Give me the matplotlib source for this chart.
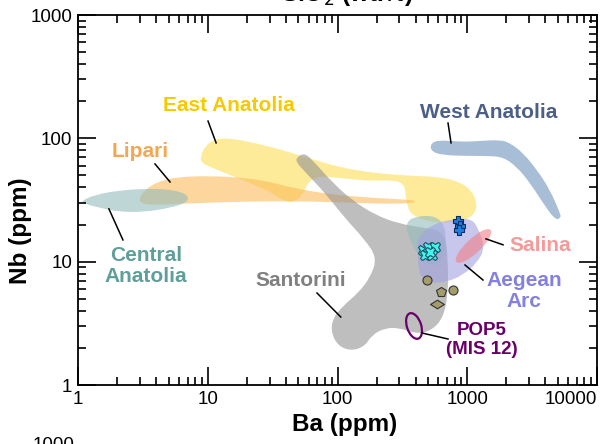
import numpy as np
import matplotlib
matplotlib.use("Agg")
import matplotlib.pyplot as plt
import matplotlib.transforms as mtransforms
from matplotlib.patches import Ellipse, PathPatch
from matplotlib.path import Path

plt.rcParams['font.family'] = ['Liberation Sans', 'DejaVu Sans']

# field outlines (Ba ppm, Nb ppm)
east_ba = [8.72, 9.52, 11.4, 14.8, 21.2, 33.0, 47.0, 67.1, 95.7, 149, 232, 382, 617, 879, 1088,
           1189, 1148, 911, 617, 456, 362, 337, 331, 277, 178, 104, 70.8, 59.3, 53.3, 44.6,
           38.0, 31.3, 23.1, 14.8, 10.4, 9.03]
east_nb = [69.3, 86.8, 98.9, 100, 93.5, 83.6, 74.7, 66.8, 59.7, 54.4, 51.4, 49.6, 48.6, 44.3, 37.4,
           29.9, 24.4, 21.0, 20.6, 21.8, 24.4, 31.6, 41.9, 46.0, 45.1, 47.7, 49.6, 44.3, 34.1, 29.9,
           31.6, 36.1, 41.9, 50.5, 58.6, 63.1]

lipari_ba = [2.95, 3.28, 4.06, 5.8, 10.4, 20.1, 30.2, 45.4, 83, 149, 254, 396,
             396, 254, 149, 45.4, 14.1, 5.8, 3.59, 3.06]
lipari_nb = [32.3, 38.2, 44.3, 48.6, 49.6, 47.7, 44.3, 39.6, 35.4, 33.5, 32.3, 31.6,
             29.9, 29.4, 29.9, 31.1, 30.5, 29.4, 28.8, 29.9]

central_ba = [1.055, 1.35, 1.93, 3.0, 4.68, 6.3, 7.17, 6.8, 5.12, 3.28, 2.11, 1.48, 1.13]
central_nb = [31.1, 34.7, 37.4, 38.9, 38.9, 36.7, 33.5, 29.9, 27.3, 25.3, 25.3, 27.3, 29.4]

central2_ba = [331, 417, 564, 674, 686, 650, 535, 432, 362]
central2_nb = [21.0, 23.5, 23.5, 19.8, 13.7, 10, 9.06, 10.7, 14.5]

west_ba = [516, 585, 927, 1254, 1788, 2135, 2690, 3449, 4345, 5188, 5280, 4747, 3836, 3046,
           2417, 1887, 1420, 927, 650, 535]
west_nb = [88.4, 97.1, 93.5, 95.3, 97.1, 91.8, 76.2, 55.4, 38.2, 24.8, 22.6, 21.8, 29.9, 43.5,
           58.6, 70.6, 72.0, 72.0, 73.3, 77.6]

santorini_ba = [48.7, 56.2, 67.1, 92.3, 129, 195, 303, 472, 674, 711, 711, 650, 535, 417, 303,
                232, 184, 163, 129, 101, 89.1, 92.3, 110, 144, 178, 202, 163, 114, 80.1, 56.2, 47.9]
santorini_nb = [70.7, 76.2, 63.1, 43.5, 31.6, 23.9, 20.2, 18.8, 17.4, 10.3, 5.37, 3.49, 2.79, 2.59,
                2.90, 2.90, 2.54, 2.07, 1.89, 2.07, 2.69, 3.49, 4.37, 5.57, 7.38, 10.7, 15.0, 22.6,
                36.1, 53.4, 64.4]

aegean_ba = [417, 516, 698, 1050, 1210, 1371, 1189, 927, 698, 516, 432, 410]
aegean_nb = [15.9, 19.5, 21.8, 22.6, 19.1, 12.9, 9.76, 7.80, 6.84, 6.72, 7.38, 11.8]

# ellipse fields: centre Ba, centre Nb
salina_center = (1117, 13.4)
pop5_center = (389, 3.01)

# samples
cross_ba = [850, 880, 860]
cross_nb = [21.5, 19.5, 18.0]
x_ba = [456, 498, 564, 472, 535, 520]
x_nb = [12.4, 13.2, 13.2, 11.3, 11.3, 12.0]
circle_ba = [490, 776]
circle_nb = [7.1, 5.9]
pent_ba = [628]
pent_nb = [5.68]
diam_ba = [585]
diam_nb = [4.54]

x_ticks = [1, 10, 100, 1000, 10000]
x_labels = ['1', '10', '100', '1000', '10000']
y_ticks = [1, 10, 100, 1000]
y_labels = ['1', '10', '100', '1000']


def smooth_field(ax, ba, nb, **kw):
    # outline points used as quadratic bezier controls, so the field has round edges
    lx, ly = np.log10(ba), np.log10(nb)
    mx = 10 ** ((lx + np.roll(lx, -1)) / 2)
    my = 10 ** ((ly + np.roll(ly, -1)) / 2)
    verts = [(mx[-1], my[-1])]
    codes = [Path.MOVETO]
    for i in range(len(ba)):
        verts += [(ba[i], nb[i]), (mx[i], my[i])]
        codes += [Path.CURVE3, Path.CURVE3]
    ax.add_patch(PathPatch(Path(verts, codes), lw=0, **kw))


fig = plt.figure(figsize=(6.11, 4.44), dpi=100)
ax = fig.add_axes([78/611, 59/444, 519/611, 370/444])
ax.set_xscale('log')
ax.set_yscale('log')
ax.set_xlim(1, 10000)
ax.set_ylim(1, 1000)

a = 0.6
smooth_field(ax, east_ba, east_nb, facecolor='#FCDF55', alpha=a)
smooth_field(ax, lipari_ba, lipari_nb, facecolor='#FABB5A', alpha=a)
smooth_field(ax, santorini_ba, santorini_nb, facecolor='#939393', alpha=a)
smooth_field(ax, central_ba, central_nb, facecolor='#93BBBB', alpha=a)
smooth_field(ax, central2_ba, central2_nb, facecolor='#93BBBB', alpha=a)
smooth_field(ax, west_ba, west_nb, facecolor='#6E93BB', alpha=a)
smooth_field(ax, aegean_ba, aegean_nb, facecolor='#A3A3E3', alpha=a)

# ellipses drawn in log10 units
log_tr = mtransforms.Affine2D().scale(1/4, 1/3) + ax.transAxes
ax.add_patch(Ellipse((np.log10(salina_center[0]), np.log10(salina_center[1])), 0.37, 0.115,
                     angle=45, facecolor='#F37F85', alpha=a, lw=0, transform=log_tr))
ax.add_patch(Ellipse((np.log10(pop5_center[0]), np.log10(pop5_center[1])), 0.11, 0.215,
                     angle=17, facecolor='none', edgecolor='#6A006A', lw=1.6, transform=log_tr))

olive = '#A39C6C'
ax.plot(circle_ba, circle_nb, 'o', ms=6.5, mfc=olive, mec='#333333', mew=0.8, ls='none')
ax.plot(pent_ba, pent_nb, 'p', ms=7, mfc=olive, mec='#333333', mew=0.8, ls='none')
ax.plot(diam_ba, diam_nb, marker=[(-1, 0), (0, 0.62), (1, 0), (0, -0.62), (-1, 0)], ms=10,
        mfc=olive, mec='#333333', mew=0.8, ls='none')
ax.plot(x_ba, x_nb, 'X', ms=7.5, mfc='#3FF5F0', mec='#1F4F5F', mew=0.8, ls='none')
ax.plot(cross_ba, cross_nb, 'P', ms=7.5, mfc='#1E7FE0', mec='#0A2A60', mew=0.8, ls='none')

# labels: text, Ba, Nb, colour, size, leader line
labels = [
    ('East Anatolia', 14.6, 183, '#F8C800', 15, [(10.05, 138), (11.6, 91.8)]),
    ('Lipari', 3.0, 77.6, '#F5A64F', 15, [(3.92, 62.0), (5.12, 44.3)]),
    ('Central\nAnatolia', 3.34, 9.23, '#5F9F9A', 15, [(1.73, 26.8), (2.22, 15.0)]),
    ('West Anatolia', 1472, 161, '#4B5F87', 15, [(711, 133), (750, 91.8)]),
    ('Santorini', 52.3, 7.1, '#808080', 15, [(69.5, 5.57), (106, 3.56)]),
    ('Salina', 3638, 13.4, '#F59A9A', 15, [(1395, 15.3), (1887, 13.7)]),
    ('Aegean\nArc', 2737, 5.79, '#8480DD', 15, [(961, 9.4), (1322, 7.1)]),
    ('POP5\n(MIS 12)', 1300, 2.32, '#690069', 13.5, [(448, 2.64), (711, 2.36)]),
]
for txt, bx, ny, col, fs, line in labels:
    ax.text(bx, ny, txt, color=col, fontsize=fs, fontweight='bold', ha='center', va='center',
            linespacing=1.15)
    (x0, y0), (x1, y1) = line
    ax.plot([x0, x1], [y0, y1], color='black', lw=1.1)

ax.set_xticks(x_ticks)
ax.set_xticklabels(x_labels)
ax.set_yticks(y_ticks)
ax.set_yticklabels(y_labels)
last = ax.get_xticklabels()[-1]
last.set_horizontalalignment('right')
last.set_transform(last.get_transform() + mtransforms.ScaledTranslation(4/100, 0, fig.dpi_scale_trans))

ax.tick_params(which='both', direction='in', top=True, right=True, labelsize=13.5, width=1.2, pad=4)
ax.tick_params(which='major', length=13)
ax.tick_params(which='minor', length=6)
for s in ax.spines.values():
    s.set_linewidth(1.3)

fig.text(345/611, 1 - 424/444, 'Ba (ppm)', fontsize=17.5, fontweight='bold', ha='center', va='center')
fig.text(21/611, 1 - 231/444, 'Nb (ppm)', fontsize=17.5, fontweight='bold', ha='center', va='center',
         rotation=90)
# bits of the neighbouring panels, cut by the crop as in the original
fig.text(347/611, 1 - 1/444, 'SiO$_2$ (wt.%)', fontsize=17.5, fontweight='bold', ha='center',
         va='baseline')
fig.text(75/611, 1 - 437/444, '1000', fontsize=13.5, ha='right', va='top')

fig.savefig('out.png', dpi=100)
